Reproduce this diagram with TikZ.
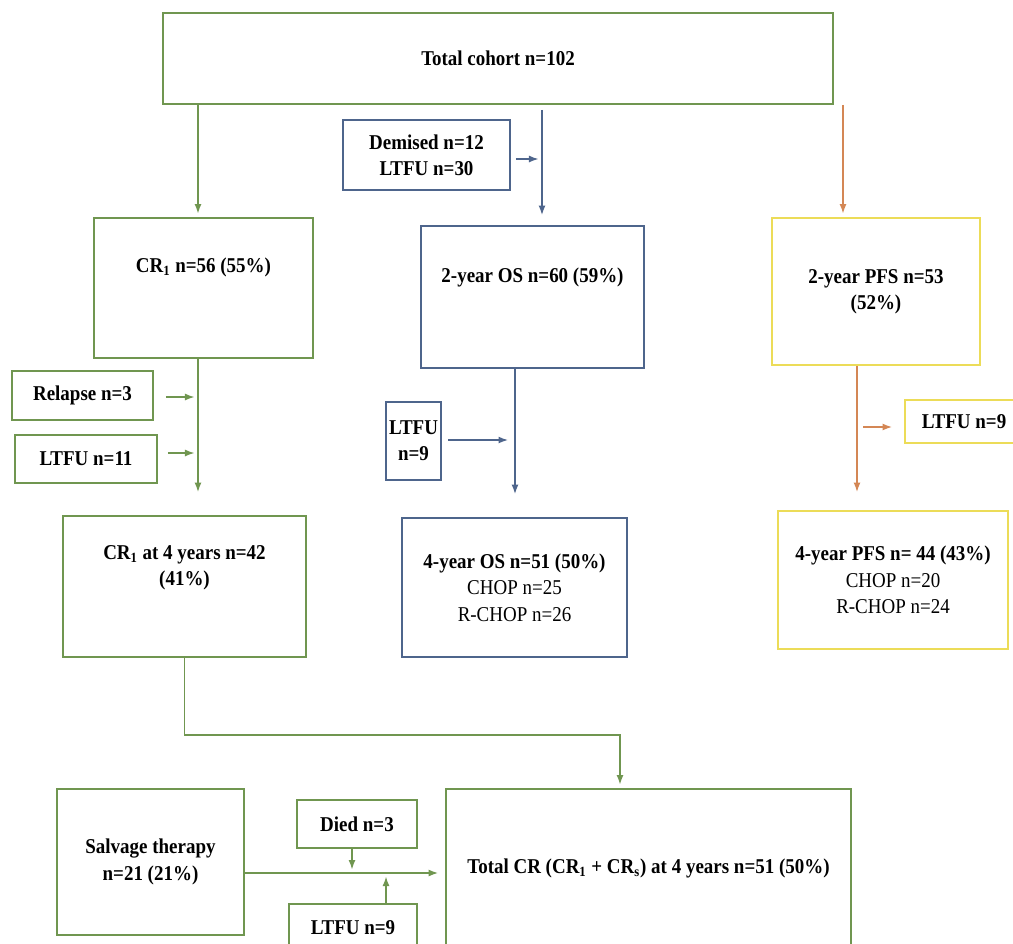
\documentclass[tikz,border=0pt]{standalone}
\usepackage{fontspec}
\setmainfont{Liberation Serif}[FakeStretch=0.9]
\usepackage{xcolor}
\usetikzlibrary{arrows.meta}

\definecolor{cgreen}{RGB}{112,150,80}
\definecolor{cblue}{RGB}{78,101,140}
\definecolor{corange}{RGB}{212,135,85}
\definecolor{cyellow}{RGB}{236,220,88}

\begin{document}
\begin{tikzpicture}[
  x=0.02cm, y=-0.02cm,
  font=\fontsize{12}{15}\selectfont\bfseries,
  box/.style={rectangle,draw,line width=1.1pt,align=center,inner sep=2pt},
  gbox/.style={box,draw=cgreen},
  bbox/.style={box,draw=cblue},
  ybox/.style={box,draw=cyellow},
  txt/.style={align=center,anchor=center},
  arr/.style={-{Latex[length=1.9mm,width=1.4mm]},line width=0.8pt,shorten >=2pt},
  garr/.style={arr,cgreen},
  barr/.style={arr,cblue},
  oarr/.style={arr,corange}
]
\useasboundingbox (0,0) rectangle (1013,943);

% top of the chart
\node[gbox,minimum width=13.40cm,minimum height=1.82cm] (cohort) at (498,58.5) {Total cohort n=102};

\node[gbox,minimum width=4.38cm,minimum height=2.80cm,
  label={[txt,yshift=0.42cm]center:{CR\textsubscript{1} n=56 (55\%)}}] (cr1) at (203.5,288) {};
\node[bbox,minimum width=3.34cm,minimum height=1.40cm] (demised) at (426.5,155) {Demised n=12\\LTFU n=30};
\node[bbox,minimum width=4.46cm,minimum height=2.84cm,
  label={[txt,yshift=0.40cm]center:{2-year OS n=60 (59\%)}}] (os2) at (532.5,297) {};
\node[ybox,minimum width=4.16cm,minimum height=2.94cm] (pfs2) at (876,291.5) {2-year PFS n=53\\(52\%)};

% losses
\node[gbox,minimum width=2.82cm,minimum height=0.98cm] (relapse) at (82.5,395.5) {Relapse n=3};
\node[gbox,minimum width=2.84cm,minimum height=0.96cm] (ltfucr) at (86,459) {LTFU n=11};
\node[bbox,minimum width=1.10cm,minimum height=1.56cm] (ltfuos) at (413.5,441) {LTFU\\n=9};
\node[ybox,minimum width=2.36cm,minimum height=0.86cm] (ltfupfs) at (964,421.5) {LTFU n=9};

% 4-year results
\node[gbox,minimum width=4.86cm,minimum height=2.82cm,
  label={[txt,yshift=0.38cm]center:{CR\textsubscript{1} at 4 years n=42\\(41\%)}}] (cr4) at (184.5,586.5) {};
\node[bbox,minimum width=4.50cm,minimum height=2.78cm] (os4) at (514.5,587.5)
  {4-year OS n=51 (50\%)\\\mdseries CHOP n=25\\\mdseries R-CHOP n=26};
\node[ybox,minimum width=4.60cm,minimum height=2.76cm] (pfs4) at (893,580)
  {4-year PFS n= 44 (43\%)\\\mdseries CHOP n=20\\\mdseries R-CHOP n=24};

% salvage
\node[gbox,minimum width=3.74cm,minimum height=2.92cm] (salv) at (150.5,862) {Salvage therapy\\n=21 (21\%)};
\node[gbox,minimum width=2.40cm,minimum height=0.96cm] (died) at (357,824) {Died n=3};
\node[gbox,minimum width=2.56cm,minimum height=0.96cm] (ltfusv) at (353,928) {LTFU n=9};
\node[gbox,minimum width=8.10cm,minimum height=3.16cm] (totcr) at (648.5,868)
  {Total CR (CR\textsubscript{1} + CR\textsubscript{s}) at 4 years n=51 (50\%)};

\coordinate (lx) at (198,0);
\coordinate (mx) at (542,0);
\coordinate (rx) at (843,0);
\coordinate (crx) at (198,0);
\coordinate (osx) at (515,0);
\coordinate (pfx) at (857,0);
\coordinate (ry1) at (0,397);
\coordinate (ry2) at (0,453);
\coordinate (dy) at (0,159);
\coordinate (oy) at (0,440);
\coordinate (py) at (0,427);
\coordinate (bend) at (620,735);
\coordinate (sy) at (0,873);
\coordinate (dx) at (352,0);
\coordinate (ux) at (386,0);

% main flow
\draw[garr] (cohort.south -| lx) -- (cr1.north -| lx);
\draw[barr,shorten <=0.1cm,shorten >=0.2cm] (cohort.south -| mx) -- (os2.north -| mx);
\draw[oarr] (cohort.south -| rx) -- (pfs2.north -| rx);
\draw[garr,shorten >=0.46cm] (cr1.south -| crx) -- (cr4.north -| crx);
\draw[barr,shorten >=0.46cm] (os2.south -| osx) -- (os4.north -| osx);
\draw[oarr,shorten >=0.36cm] (pfs2.south -| pfx) -- (pfs4.north -| pfx);
\draw[garr] (cr4.south) |- (bend) -- (totcr.north -| bend);
\draw[garr,shorten >=0.14cm] (salv.east |- sy) -- (totcr.west |- sy);

% side arrows
\draw[garr,shorten <=0.24cm] (relapse.east |- ry1) -- (crx |- ry1);
\draw[garr,shorten <=0.2cm] (ltfucr.east |- ry2) -- (crx |- ry2);
\draw[barr,shorten <=0.1cm] (demised.east |- dy) -- (mx |- dy);
\draw[barr,shorten <=0.12cm,shorten >=0.14cm] (ltfuos.east |- oy) -- (osx |- oy);
\draw[oarr,shorten <=0.12cm,shorten >=0.24cm] (pfx |- py) -- (ltfupfs.west |- py);
\draw[garr] (died.south -| dx) -- (dx |- sy);
\draw[garr] (ltfusv.north -| ux) -- (ux |- sy);
\end{tikzpicture}
\end{document}
